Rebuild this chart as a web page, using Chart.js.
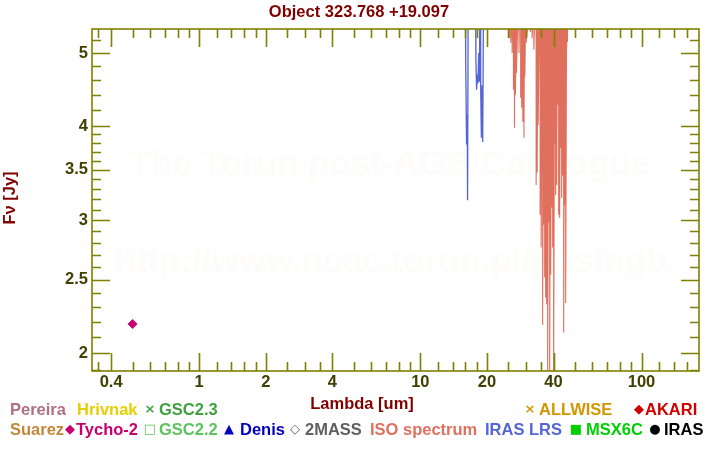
<!DOCTYPE html>
<html>
<head>
<meta charset="utf-8">
<script src="https://cdn.jsdelivr.net/npm/chart.js@4"></script>
<style>
html, body { margin: 0; padding: 0; background: #fff; }
#wrap { position: relative; width: 720px; height: 450px; }
</style>
</head>
<body>
<div id="wrap"><canvas id="sed" width="720" height="450"></canvas></div>
<script>
// photometry
const tychoWave = [0.50];
const tychoFlux = [2.185];

// IRAS LRS spectrum (um, Jy) - noisy, mostly above the plot
const lrsWave = [15.97, 16.03, 16.18, 16.30, 16.35, 16.47, 17.74, 17.83, 17.96, 18.11, 18.21, 18.36, 18.49, 18.63, 18.74, 18.88, 19.02, 19.14, 19.34];
const lrsFlux = [6.5, 4.92, 3.78, 4.14, 3.19, 6.5, 6.5, 4.89, 4.47, 4.68, 4.56, 5.0, 4.58, 6.5, 4.51, 3.86, 4.53, 3.81, 6.5];

// ISO spectrum: wavelength, dip flux and peak flux of each spike
const isoWave = [25.33, 25.65, 26.00, 26.35, 26.63, 26.91, 27.19, 27.91, 28.41, 28.71, 29.07, 29.40, 29.68, 30.08, 31.46, 32.02, 32.60, 33.38, 33.73, 34.09, 34.80, 35.17, 35.72, 36.10, 36.48, 36.86, 37.24, 37.63, 38.03, 38.43, 38.83, 39.24, 39.65, 40.06, 40.48, 40.90, 41.33, 41.76, 42.20, 42.64, 43.09, 43.54, 44.00, 44.46, 44.92, 45.40, 45.87, 46.26];
const isoDip = [5.23, 5.16, 5.00, 4.47, 3.98, 4.40, 4.70, 5.00, 4.36, 4.23, 4.05, 3.86, 4.65, 5.16, 5.33, 5.23, 5.05, 3.34, 3.47, 4.01, 3.05, 2.76, 2.18, 2.96, 2.52, 2.37, 2.32, 1.85, 2.98, 1.85, 2.54, 3.12, 2.76, 1.85, 3.78, 3.24, 3.34, 4.27, 3.05, 3.02, 3.74, 3.21, 3.44, 2.13, 3.14, 2.33, 5.09, 5.17];
const isoPeak = [6.2, 6.5, 6.1, 6.8, 6.3, 6.6, 6.0, 6.4, 6.9, 6.2, 6.5, 6.1, 6.7, 6.3, 6.0, 6.4, 6.2, 6.8, 6.5, 6.1, 6.6, 6.3, 6.9, 6.2, 6.4, 6.0, 6.7, 6.5, 6.1, 6.3, 6.8, 6.2, 6.6, 6.4, 6.0, 6.5, 6.3, 6.9, 6.1, 6.4, 6.7, 6.2, 6.5, 6.0, 6.6, 6.3, 6.1, 6.4];

// axes
const xTicks = [0.4, 1, 2, 4, 10, 20, 40, 100];
const xMinor = [0.35, 0.5, 0.6, 0.7, 0.8, 0.9, 1.2, 1.4, 1.6, 1.8, 2.5, 3, 3.5, 5, 6, 7, 8, 9, 12, 14, 16, 18, 25, 30, 35, 50, 60, 70, 80, 90, 120, 140, 160];
const yTicks = [2, 2.5, 3, 3.5, 4, 5];
const yMinor = [1.9, 2.1, 2.2, 2.3, 2.4, 2.6, 2.7, 2.8, 2.9, 3.1, 3.2, 3.3, 3.4, 3.6, 3.7, 3.8, 3.9, 4.2, 4.4, 4.6, 4.8, 5.2];

// legend: label, colour, marker
const legendNames = ['Pereira', 'Hrivnak', 'GSC2.3', 'ALLWISE', 'AKARI', 'Suarez', 'Tycho-2', 'GSC2.2', 'Denis', '2MASS', 'ISO spectrum', 'IRAS LRS', 'MSX6C', 'IRAS'];
const legendColors = ['#b07080', '#e6cf00', '#3fa03f', '#d29600', '#d00000', '#c08838', '#c8006e', '#5cc45c', '#0000c0', '#606060', '#e0705e', '#5565d5', '#00d000', '#000000'];
const legendMarks = ['', '', '\u00d7', '\u00d7', '\u25c6', '', '\u25c6', '\u25a1', '\u25b2', '\u25c7', '', '', '\u25a0', '\u25cf'];

const FONT = '"Liberation Sans", Arial, sans-serif';
const OLIVE = '#808000';
const DARKRED = '#800000';

// where each legend entry sits (marker centre, text left, row centre)
const legendLayout = [
    [null, 10, 410], [null, 77, 410], [150, 159, 410], [530, 539, 410], [639, 645, 410],
    [null, 10, 430], [70, 76, 430], [150, 159, 430], [229, 240, 430], [295, 305, 430],
    [null, 370, 430], [null, 485, 430], [576, 586, 430], [655, 664, 430]
];

const isoPoints = [];
isoWave.forEach((w, i) => {
    isoPoints.push({ x: w, y: isoPeak[i] });
    isoPoints.push({ x: w, y: isoDip[i] });
});
const lrsPoints = lrsWave.map((w, i) => ({ x: w, y: lrsFlux[i] }));
const tychoPoints = tychoWave.map((w, i) => ({ x: w, y: tychoFlux[i] }));

const framePlugin = {
    id: 'frame',
    beforeDatasetsDraw(chart) {
        const ctx = chart.ctx;
        ctx.save();
        ctx.fillStyle = 'rgb(253,252,249)';
        ctx.font = 'bold 35px ' + FONT;
        ctx.textAlign = 'center';
        ctx.textBaseline = 'alphabetic';
        ctx.fillText('The Torun post-AGB Catalogue', 390, 175);
        ctx.fillText('http://www.ncac.torun.pl/postagb', 391, 272);
        ctx.restore();
    },
    afterDatasetsDraw(chart) {
        const { ctx, chartArea: a, scales } = chart;
        const x = scales.x, y = scales.y;
        ctx.save();
        ctx.strokeStyle = OLIVE;
        ctx.lineWidth = 1.6;
        ctx.beginPath();
        const tick = (v, len, isX) => {
            if (isX) {
                const px = Math.round(x.getPixelForValue(v)) + 0.5;
                ctx.moveTo(px, a.bottom); ctx.lineTo(px, a.bottom - len);
                ctx.moveTo(px, a.top); ctx.lineTo(px, a.top + len);
            } else {
                const py = Math.round(y.getPixelForValue(v)) + 0.5;
                ctx.moveTo(a.left, py); ctx.lineTo(a.left + len, py);
                ctx.moveTo(a.right, py); ctx.lineTo(a.right - len, py);
            }
        };
        xTicks.forEach(v => tick(v, 18, true));
        xMinor.forEach(v => tick(v, 9, true));
        yTicks.forEach(v => tick(v, 18, false));
        yMinor.forEach(v => tick(v, 9, false));
        ctx.stroke();
        ctx.strokeRect(a.left, a.top, a.right - a.left, a.bottom - a.top);
        ctx.restore();
    },
    afterDraw(chart) {
        const ctx = chart.ctx;
        ctx.save();
        ctx.fillStyle = DARKRED;
        ctx.font = 'bold 16.5px ' + FONT;
        ctx.textAlign = 'center';
        ctx.textBaseline = 'middle';
        ctx.fillText('Object 323.768 +19.097', 359, 12);
        ctx.fillText('Lambda [um]', 362, 404);
        ctx.save();
        ctx.translate(10, 198);
        ctx.rotate(-Math.PI / 2);
        ctx.fillText('F\u03bd [Jy]', 0, 0);
        ctx.restore();

        legendNames.forEach((name, i) => {
            const [mx, tx, cy] = legendLayout[i];
            ctx.fillStyle = legendColors[i];
            if (legendMarks[i]) {
                ctx.textAlign = 'center';
                ctx.font = 'bold 13px "DejaVu Sans", sans-serif';
                ctx.fillText(legendMarks[i], mx, cy);
            }
            ctx.textAlign = 'left';
            ctx.font = 'bold 16.5px ' + FONT;
            ctx.fillText(name, tx, cy);
        });
        ctx.restore();
    }
};

const tickFont = { family: FONT, size: 16.5, weight: 'bold' };

new Chart(document.getElementById('sed').getContext('2d'), {
    type: 'scatter',
    data: {
        datasets: [
            {
                label: 'ISO spectrum',
                data: isoPoints,
                showLine: true,
                borderColor: '#e0705e',
                borderWidth: 1.1,
                pointRadius: 0,
                clip: 0
            },
            {
                label: 'IRAS LRS',
                data: lrsPoints,
                showLine: true,
                borderColor: '#5565d5',
                borderWidth: 1.3,
                pointRadius: 0,
                clip: 0
            },
            {
                label: 'Tycho-2',
                data: tychoPoints,
                pointStyle: 'rectRot',
                pointRadius: 5,
                backgroundColor: '#c8006e',
                borderColor: '#c8006e',
                borderWidth: 0,
                clip: 0
            }
        ]
    },
    options: {
        responsive: false,
        animation: false,
        devicePixelRatio: 1,
        layout: { padding: { top: 29, right: 21, left: 0, bottom: 0 } },
        plugins: {
            legend: { display: false },
            tooltip: { enabled: false }
        },
        scales: {
            x: {
                type: 'logarithmic',
                bounds: 'data',
                min: 0.3277,
                max: 181.9,
                grid: { display: false, drawTicks: false },
                border: { display: false },
                ticks: {
                    autoSkip: false, maxRotation: 0, padding: 2,
                    color: '#404000', font: tickFont,
                    callback: v => String(v)
                },
                afterBuildTicks: s => {
                    s.ticks = xTicks.map(v => ({ value: v }));
                    s.min = 0.3277;
                    s.max = 181.9;
                },
                afterFit: s => { s.height = 79; }
            },
            y: {
                type: 'logarithmic',
                bounds: 'data',
                min: 1.893,
                max: 5.38,
                grid: { display: false, drawTicks: false },
                border: { display: false },
                ticks: {
                    autoSkip: false, padding: 4,
                    color: '#404000', font: tickFont,
                    callback: v => String(v)
                },
                afterBuildTicks: s => {
                    s.ticks = yTicks.map(v => ({ value: v }));
                    s.min = 1.893;
                    s.max = 5.38;
                },
                afterFit: s => { s.width = 92; }
            }
        }
    },
    plugins: [framePlugin]
});
</script>
</body>
</html>
